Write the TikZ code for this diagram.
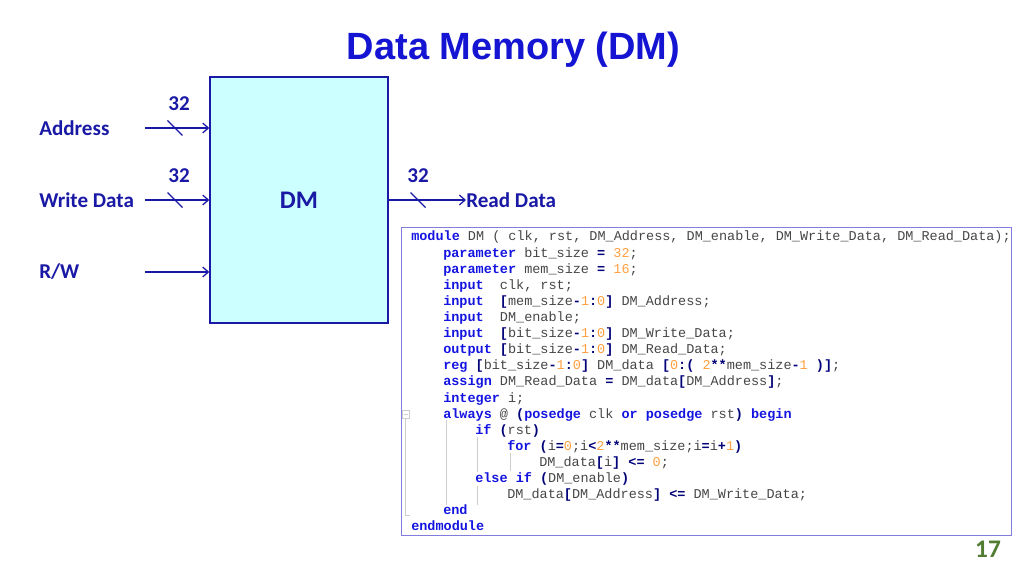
\documentclass[tikz,border=0pt]{standalone}
\usepackage{fontspec}
\setmainfont{Carlito}
\newfontfamily\titlefont{Liberation Sans}
\setmonofont{Liberation Mono}
\usetikzlibrary{arrows.meta}

\definecolor{titleblue}{RGB}{20,20,210}
\definecolor{sigblue}{RGB}{25,25,165}
\definecolor{boxfill}{RGB}{204,255,255}
\definecolor{kwblue}{RGB}{20,20,225}
\definecolor{opnavy}{RGB}{0,0,120}
\definecolor{numorange}{RGB}{255,160,64}
\definecolor{codegray}{RGB}{70,70,70}
\definecolor{framelav}{RGB}{130,125,220}
\definecolor{guidegray}{RGB}{205,205,205}
\definecolor{pagegreen}{RGB}{80,125,50}

\newcommand{\kw}[1]{{\bfseries\color{kwblue}#1}}
\newcommand{\op}[1]{{\bfseries\color{opnavy}#1}}
\newcommand{\nm}[1]{{\color{numorange}#1}}

\tikzset{
	dmpicture/.style = {
		x = 0.025cm,
		y = -0.025cm,
		>={Straight Barb[length=4pt,width=7pt]},
		wire/.style = {
			draw = sigblue,
			line width = 0.9pt,
			->,
		}
	},
	sig/.style = {
		text = sigblue,
		font = \fontsize{15}{18}\selectfont\bfseries,
		inner sep = 0pt
	},
	buswidth/.style = {
		text = sigblue,
		font = \fontsize{15}{18}\selectfont\bfseries,
		inner sep = 0pt
	},
	busslash/.style = {
		draw = sigblue,
		line width = 0.8pt
	},
	dmbox/.style = {
		draw = sigblue,
		fill = boxfill,
		line width = 1pt,
		minimum width = 4.45cm,
		minimum height = 6.15cm,
		text = sigblue,
		font = \fontsize{18}{22}\selectfont\bfseries
	},
	codeframe/.style = {
		draw = framelav,
		line width = 0.7pt,
		minimum width = 15.225cm,
		minimum height = 7.675cm
	},
	codeline/.style = {
		anchor = base west,
		inner sep = 0pt,
		text = codegray,
		font = \fontsize{9.6}{11}\ttfamily\frenchspacing
	},
	guide/.style = {
		draw = guidegray,
		line width = 0.5pt
	}
}

\begin{document}
\begin{tikzpicture}[dmpicture]
	\useasboundingbox (0,0) rectangle (1024,576);

	\node[font = \titlefont\fontsize{27}{32}\selectfont\bfseries, text = titleblue] (title) at (513.5,50) {Data Memory (DM)};

	\node[dmbox] (dm) at (299,200) {DM};

	\node[sig, anchor = west] (addr) at (39,128) {Address};
	\node[sig, anchor = west] (wdata) at (39,200) {Write Data};
	\node[sig, anchor = west] (rw) at (39,272) {R/W};
	\node[sig, anchor = west] (rdata) at (466,200) {Read Data};

	\coordinate (addr-in) at (145,128);
	\coordinate (wdata-in) at (145,200);
	\coordinate (rw-in) at (145,272);

	\path[wire] (addr-in) -- (dm.west |- addr-in);
	\path[wire] (wdata-in) -- (dm.west |- wdata-in);
	\path[wire] (rw-in) -- (dm.west |- rw-in);
	\path[wire] (dm.east |- rdata) -- (rdata.west);

	% bus width marks
	\draw[busslash] (175,128) ++(-7.5,-7.5) -- ++(15,15);
	\draw[busslash] (175,200) ++(-7.5,-7.5) -- ++(15,15);
	\draw[busslash] (418,200) ++(-7.5,-7.5) -- ++(15,15);
	\node[buswidth] (addr-w) at (179,104) {32};
	\node[buswidth] (wdata-w) at (179,176) {32};
	\node[buswidth] (rdata-w) at (418,176) {32};

	% verilog listing
	\node[codeframe] (codebox) at (706.5,381.5) {};

	\draw[guide] (402,410) rectangle (409,418);
	\draw[guide] (403.5,414) -- (407.5,414);
	\draw[guide] (405.5,418) -- (405.5,515) -- (410,515);
	\draw[guide] (446,420) -- (446,505);
	\draw[guide] (477,437) -- (477,472);
	\draw[guide] (477,486) -- (477,505);
	\draw[guide] (510,453) -- (510,471);

	\node[codeline] (c1) at (411,241) {\kw{module} DM ( clk, rst, DM\_Address, DM\_enable, DM\_Write\_Data, DM\_Read\_Data);};
	\node[codeline] (c2) at (443,257.1) {\kw{parameter} bit\_size \op{=} \nm{32};};
	\node[codeline] (c3) at (443,273.2) {\kw{parameter} mem\_size \op{=} \nm{16};};
	\node[codeline] (c4) at (443,289.3) {\kw{input}~ clk, rst;};
	\node[codeline] (c5) at (443,305.4) {\kw{input}~ \op{[}mem\_size\op{-}\nm{1}\op{:}\nm{0}\op{]} DM\_Address;};
	\node[codeline] (c6) at (443,321.5) {\kw{input}~ DM\_enable;};
	\node[codeline] (c7) at (443,337.6) {\kw{input}~ \op{[}bit\_size\op{-}\nm{1}\op{:}\nm{0}\op{]} DM\_Write\_Data;};
	\node[codeline] (c8) at (443,353.7) {\kw{output} \op{[}bit\_size\op{-}\nm{1}\op{:}\nm{0}\op{]} DM\_Read\_Data;};
	\node[codeline] (c9) at (443,369.8) {\kw{reg} \op{[}bit\_size\op{-}\nm{1}\op{:}\nm{0}\op{]} DM\_data \op{[}\nm{0}\op{:(} \nm{2}\op{**}mem\_size\op{-}\nm{1} \op{)]};};
	\node[codeline] (c10) at (443,385.9) {\kw{assign} DM\_Read\_Data \op{=} DM\_data\op{[}DM\_Address\op{]};};
	\node[codeline] (c11) at (443,402) {\kw{integer} i;};
	\node[codeline] (c12) at (443,418.1) {\kw{always} @ \op{(}\kw{posedge} clk \kw{or} \kw{posedge} rst\op{)} \kw{begin}};
	\node[codeline] (c13) at (475,434.2) {\kw{if} \op{(}rst\op{)}};
	\node[codeline] (c14) at (507,450.3) {\kw{for} \op{(}i\op{=}\nm{0};i\op{<}\nm{2}\op{**}mem\_size;i\op{=}i\op{+}\nm{1}\op{)}};
	\node[codeline] (c15) at (539,466.4) {DM\_data\op{[}i\op{]} \op{<=} \nm{0};};
	\node[codeline] (c16) at (475,482.5) {\kw{else} \kw{if} \op{(}DM\_enable\op{)}};
	\node[codeline] (c17) at (507,498.6) {DM\_data\op{[}DM\_Address\op{]} \op{<=} DM\_Write\_Data;};
	\node[codeline] (c18) at (443,514.7) {\kw{end}};
	\node[codeline] (c19) at (411,530.8) {\kw{endmodule}};

	\node[text = pagegreen, font = \fontsize{18}{22}\selectfont\bfseries] (page) at (988,549) {17};
\end{tikzpicture}
\end{document}
